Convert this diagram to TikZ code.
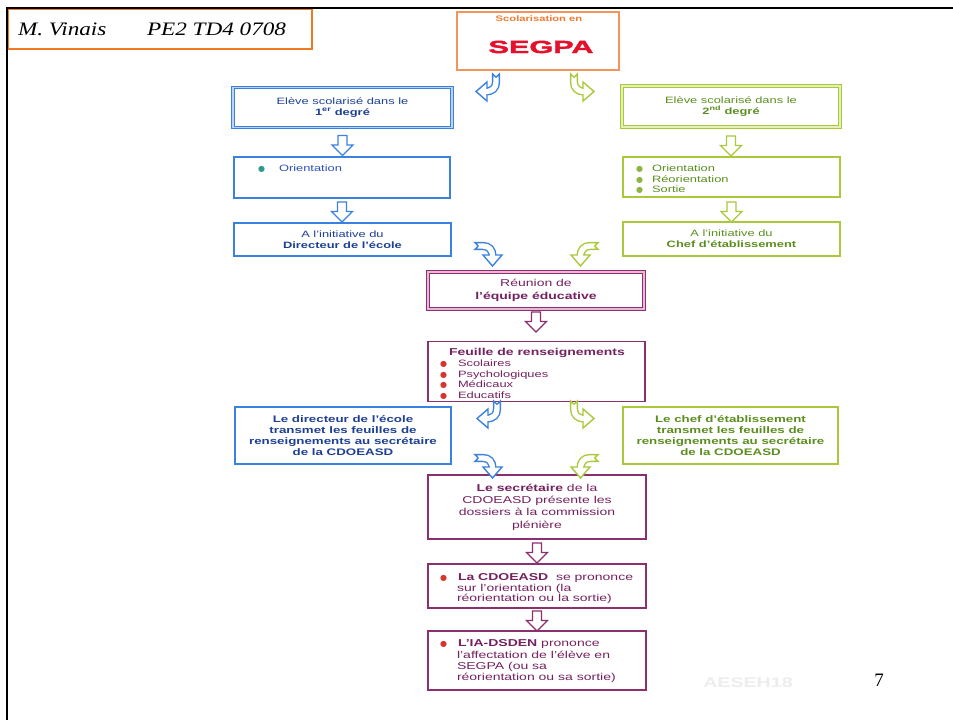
\documentclass[tikz,border=0pt]{standalone}
\usepackage{fontspec}
\usetikzlibrary{calc}
\setmainfont{Liberation Sans}
\newfontfamily\boxf[FakeStretch=1.4]{Liberation Sans}
\newfontfamily\segf[FakeStretch=1.75,FakeBold=2.4]{Liberation Sans}
\newfontfamily\hdrf[FakeStretch=1.22]{Liberation Serif}
\newfontfamily\serf{Liberation Serif}
\newfontfamily\symf{DejaVu Sans}
\definecolor{bluB}{HTML}{3B82E0}
\definecolor{bluL}{HTML}{B9D4F4}
\definecolor{bluT}{HTML}{1D3F94}
\definecolor{bluO}{HTML}{2A52B8}
\definecolor{tealD}{HTML}{2E9C8C}
\definecolor{grnB}{HTML}{A9C93A}
\definecolor{grnL}{HTML}{E3F0B8}
\definecolor{grnT}{HTML}{5B8E1E}
\definecolor{grnD}{HTML}{8DB545}
\definecolor{purB}{HTML}{8C2F6F}
\definecolor{purL}{HTML}{E8B8D8}
\definecolor{purT}{HTML}{75215F}
\definecolor{redD}{HTML}{D8352B}
\definecolor{orgH}{HTML}{F07A22}
\definecolor{orgS}{HTML}{F3955A}
\definecolor{orgT}{HTML}{F07A30}
\definecolor{segR}{HTML}{E5102B}
\definecolor{wmk}{HTML}{EDEDED}
\newcommand{\mybul}[2]{\makebox[#2][l]{\textcolor{#1}{\symf\fontsize{8}{8}\selectfont ●}}}
\tikzset{
  arrl/.style={line width=1.4pt, line join=miter},
  cdl/.pic={
    \draw[arrl, draw=#1, double=white, double distance=5.4pt] (0,0) -- (0,4) .. controls (0,10) and (-4,13.5) .. (-10,13.5);
    \filldraw[arrl, draw=#1, fill=white] (-9,4) -- (-20,13.5) -- (-9,23) -- cycle;
    \fill[white] (-9.9,10.9) rectangle (-8.1,16.1);
    \draw[arrl, draw=#1] (-3.4,0) -- (-3.4,-4) -- (0,-0.8) -- (3.4,-4) -- (3.4,0);
  },
  crd/.pic={
    \draw[arrl, draw=#1, double=white, double distance=5.4pt] (0,0) -- (4,0) .. controls (10,0) and (13.5,4) .. (13.5,10);
    \filldraw[arrl, draw=#1, fill=white] (4,9) -- (13.5,20) -- (23,9) -- cycle;
    \fill[white] (10.9,8.1) rectangle (16.1,9.9);
    \draw[arrl, draw=#1] (0,-3.4) -- (-4,-3.4) -- (-0.8,0) -- (-4,3.4) -- (0,3.4);
  },
  dar/.pic={
    \filldraw[line width=1.2pt, line join=miter, draw=#1, fill=white] (-4.5,0) -- (4.5,0) -- (4.5,9.5) -- (10.5,9.5) -- (0,20) -- (-10.5,9.5) -- (-4.5,9.5) -- cycle;
  },
  box/.style={rectangle, inner sep=0pt, outer sep=0pt, line width=1.1pt, fill=white},
  bbox/.style={box, draw=bluB, text=bluT},
  bboxd/.style={bbox, line width=0.9pt, double=bluL, double distance=1.3pt},
  gbox/.style={box, draw=grnB, text=grnT},
  gboxd/.style={gbox, line width=0.9pt, double=grnL, double distance=1.3pt},
  pbox/.style={box, draw=purB, text=purT},
  pboxd/.style={pbox, line width=0.9pt, double=purL, double distance=1.3pt},
  ftA/.style={font=\boxf\fontsize{9.2}{11}\selectfont},
  ftB/.style={font=\boxf\bfseries\fontsize{9.5}{11}\selectfont},
  ftP/.style={font=\boxf\fontsize{10}{12.3}\selectfont},
  ftL/.style={font=\boxf\fontsize{10}{11.5}\selectfont},
  lbl/.style={inner sep=0pt, outer sep=0pt, anchor=base west},
}
\begin{document}
\begin{tikzpicture}[x=1pt,y=-1pt]
\useasboundingbox (0,0) rectangle (953,720);
\fill[white] (0,0) rectangle (953,720);

% header
\node[draw=orgH, line width=1.3pt, minimum width=304, minimum height=40, inner sep=0pt] (hdr) at (160,29) {};
\node[lbl, font=\hdrf\itshape\fontsize{19}{19}\selectfont] (hn) at (18,35) {M. Vinais};
\node[lbl, font=\hdrf\itshape\fontsize{19}{19}\selectfont] (hc) at (147,35) {PE2 TD4 0708};
\draw[line width=2.4pt] (6,8) -- (953,8);
\draw[line width=2.4pt] (7,7) -- (7,720);

% SEGPA
\node[draw=orgS, line width=1.8pt, minimum width=162, minimum height=58, inner sep=0pt] (segpa) at (538,41) {};
\node[anchor=base, inner sep=0pt, font=\boxf\bfseries\fontsize{8}{8}\selectfont, text=orgT] (sc) at (539,21.5) {Scolarisation en};
\node[anchor=base, inner sep=0pt, font=\segf\bfseries\fontsize{17.5}{17.5}\selectfont, text=segR] (sg) at (541,53) {SEGPA};

% blue column
\node[bboxd, ftA, align=center, minimum width=219, minimum height=40] (b1) at (342.5,107.5) {Elève scolarisé dans le\\\textbf{1\textsuperscript{er} degré}};
\node[bbox, minimum width=216, minimum height=41] (b2) at (342,177.5) {};
\node[lbl, ftA, text=bluO] (b2t) at (258,171.5) {\mybul{tealD}{21pt}Orientation};
\node[bbox, ftA, align=center, minimum width=217, minimum height=33] (b3) at (342.5,239.5) {A l’initiative du\\\textbf{Directeur de l’école}};

% green column
\node[gboxd, ftA, align=center, minimum width=218, minimum height=41] (g1) at (731,106.5) {Elève scolarisé dans le\\\textbf{2\textsuperscript{nd} degré}};
\node[gbox, minimum width=217, minimum height=40] (g2) at (731.5,177) {};
\node[lbl, ftA, text=grnT] (g2a) at (636,171) {\mybul{grnD}{16pt}Orientation};
\node[lbl, ftA, text=grnT] (g2b) at (636,182) {\mybul{grnD}{16pt}Réorientation};
\node[lbl, ftA, text=grnT] (g2c) at (636,192.5) {\mybul{grnD}{16pt}Sortie};
\node[gbox, ftA, align=center, minimum width=217, minimum height=34] (g3) at (731.5,239) {A l’initiative du\\\textbf{Chef d’établissement}};

% purple column
\node[pboxd, ftP, align=center, minimum width=216, minimum height=37] (p1) at (536,290.5) {Réunion de\\\textbf{l’équipe éducative}};
\node[pbox, minimum width=217, minimum height=60] (p2) at (536.5,371.5) {};
\node[anchor=base, inner sep=0pt, ftP, text=purT] (p2h) at (537,355.5) {\textbf{Feuille de renseignements}};
\node[lbl, ftA, text=purT] (p2a) at (440,366.5) {\mybul{redD}{18pt}Scolaires};
\node[lbl, ftA, text=purT] (p2b) at (440,377.5) {\mybul{redD}{18pt}Psychologiques};
\node[lbl, ftA, text=purT] (p2c) at (440,387.5) {\mybul{redD}{18pt}Médicaux};
\node[lbl, ftA, text=purT] (p2d) at (440,398.5) {\mybul{redD}{18pt}Educatifs};

\node[bbox, ftB, align=center, minimum width=216, minimum height=57] (t1) at (343,435.5) {Le directeur de l’école\\transmet les feuilles de\\renseignements au secrétaire\\de la CDOEASD};
\node[gbox, ftB, align=center, minimum width=215, minimum height=57] (t2) at (730.5,435.5) {Le chef d’établissement\\transmet les feuilles de\\renseignements au secrétaire\\de la CDOEASD};

\node[pbox, ftP, align=center, minimum width=218, minimum height=64] (p3) at (537,507) {\textbf{Le secrétaire} de la\\CDOEASD présente les\\dossiers à la commission\\plénière};

\node[pbox, minimum width=218, minimum height=44] (p4) at (537,586) {};
\node[lbl, ftL, text=purT] (p4a) at (440,580.5) {\mybul{redD}{18pt}\textbf{La CDOEASD}\ \ se prononce};
\node[lbl, ftL, text=purT] (p4b) at (457,591.5) {sur l’orientation (la};
\node[lbl, ftL, text=purT] (p4c) at (457,601.5) {réorientation ou la sortie)};

\node[pbox, minimum width=218, minimum height=59] (p5) at (537,660.5) {};
\node[lbl, ftL, text=purT] (p5a) at (440,646.5) {\mybul{redD}{18pt}\textbf{L’IA-DSDEN} prononce};
\node[lbl, ftL, text=purT] (p5b) at (457,658) {l’affectation de l’élève en};
\node[lbl, ftL, text=purT] (p5c) at (457,669.5) {SEGPA (ou sa};
\node[lbl, ftL, text=purT] (p5d) at (457,680.5) {réorientation ou sa sortie)};

% straight block arrows
\pic at ($(b1.south)+(0,8)$) {dar=bluB};
\pic at ($(b2.south)+(0,4)$) {dar=bluB};
\pic at ($(g1.south)+(0,9)$) {dar=grnB};
\pic at ($(g2.south)+(0,5)$) {dar=grnB};
\pic at ($(p1.south)+(0,3)$) {dar=purB};
\pic at ($(p3.south)+(0,4)$) {dar=purB};
\pic at ($(p4.south)+(0,3)$) {dar=purB};

% curved arrows
\pic at (496,78) {cdl=bluB};
\pic[xscale=-1] at (574,78) {cdl=grnB};
\pic at (479,246) {crd=bluB};
\pic[xscale=-1] at (594,246) {crd=grnB};
\pic at (497,405) {cdl=bluB};
\pic[xscale=-1] at (574,405) {cdl=grnB};
\pic at (479,458) {crd=bluB};
\pic[xscale=-1] at (594,458) {crd=grnB};

% footer
\node[anchor=base, inner sep=0pt, font=\boxf\bfseries\fontsize{14}{14}\selectfont, text=wmk] (wm) at (748,687) {AESEH18};
\node[anchor=base, inner sep=0pt, font=\serf\fontsize{19}{19}\selectfont] (pg) at (879,686) {7};
\end{tikzpicture}
\end{document}
